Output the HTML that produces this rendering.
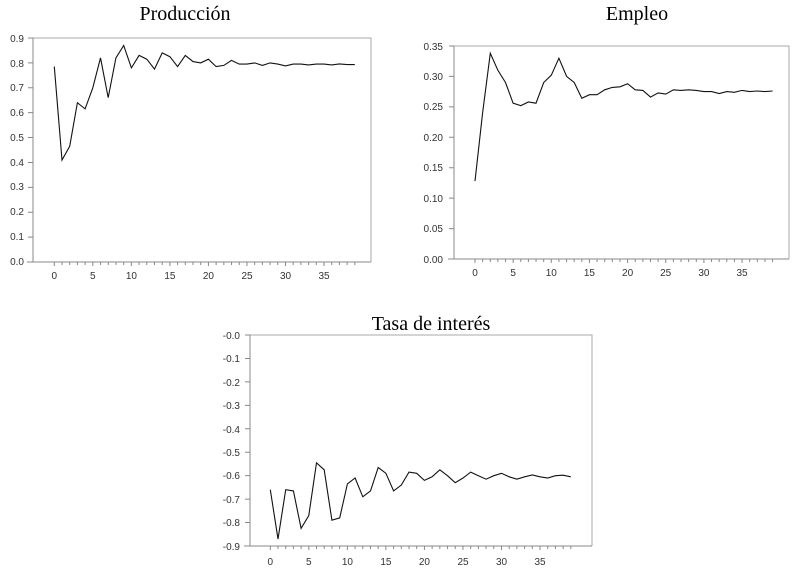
<!DOCTYPE html>
<html><head><meta charset="utf-8"><style>
body{margin:0;background:#fff;}
svg text{font-family:"Liberation Sans",sans-serif;font-size:10px;fill:#333;}
svg text.t{font-family:"Liberation Serif",serif;font-size:20px;fill:#000;}
</style></head><body>
<svg id="s" width="798" height="568" viewBox="0 0 798 568" xmlns="http://www.w3.org/2000/svg">
<text class="t" x="185" y="20" text-anchor="middle">Producción</text>
<text class="t" x="637" y="20" text-anchor="middle">Empleo</text>
<text class="t" x="431" y="330" text-anchor="middle">Tasa de interés</text>
<g text-anchor="end">
<text x="24" y="265">0.0</text><text x="24" y="240">0.1</text><text x="24" y="215">0.2</text><text x="24" y="190">0.3</text><text x="24" y="166">0.4</text><text x="24" y="141">0.5</text><text x="24" y="116">0.6</text><text x="24" y="91">0.7</text><text x="24" y="67">0.8</text><text x="24" y="42">0.9</text>
<text x="443" y="263">0.00</text><text x="443" y="232">0.05</text><text x="443" y="202">0.10</text><text x="443" y="171">0.15</text><text x="443" y="141">0.20</text><text x="443" y="110">0.25</text><text x="443" y="80">0.30</text><text x="443" y="50">0.35</text>
<text x="240" y="339">-0.0</text><text x="240" y="362">-0.1</text><text x="240" y="386">-0.2</text><text x="240" y="409">-0.3</text><text x="240" y="433">-0.4</text><text x="240" y="456">-0.5</text><text x="240" y="479">-0.6</text><text x="240" y="503">-0.7</text><text x="240" y="526">-0.8</text><text x="240" y="550">-0.9</text>
</g>
<g text-anchor="middle">
<text x="54.3" y="279">0</text><text x="92.8" y="279">5</text><text x="131.4" y="279">10</text><text x="169.9" y="279">15</text><text x="208.4" y="279">20</text><text x="247" y="279">25</text><text x="285.5" y="279">30</text><text x="324" y="279">35</text>
<text x="475" y="276">0</text><text x="513.1" y="276">5</text><text x="551.3" y="276">10</text><text x="589.4" y="276">15</text><text x="627.6" y="276">20</text><text x="665.7" y="276">25</text><text x="703.9" y="276">30</text><text x="742" y="276">35</text>
<text x="270.3" y="565">0</text><text x="308.8" y="565">5</text><text x="347.4" y="565">10</text><text x="385.9" y="565">15</text><text x="424.4" y="565">20</text><text x="463" y="565">25</text><text x="501.5" y="565">30</text><text x="540" y="565">35</text>
</g>
</svg>
<script>
var s=document.getElementById('s'),NS='http://www.w3.org/2000/svg';
function el(n,a){var e=document.createElementNS(NS,n);for(var k in a)e.setAttribute(k,a[k]);s.appendChild(e);}
function chart(L,T,R,B,x0,dx,v0,v1,nt,data){
 el('path',{d:'M'+L+' '+T+'H'+R+'V'+B,fill:'none',stroke:'#aaa','stroke-width':1});
 el('path',{d:'M'+L+' '+T+'V'+B+'M'+(L-6)+' '+B+'H'+R,fill:'none',stroke:'#888','stroke-width':1});
 var d='';for(var i=0;i<=nt;i++){var y=B-(B-T)*i/nt;d+='M'+(L-5)+' '+y+'H'+L;}
 for(var k=0;k<40;k++){var x=x0+k*dx;d+='M'+x+' '+B+'v'+(k%5==0?4:3);}
 el('path',{d:d,stroke:'#888','stroke-width':1,fill:'none'});
 var p=data.map(function(v,k){return (x0+k*dx).toFixed(1)+','+(B-(B-T)*(v-v0)/(v1-v0)).toFixed(1)}).join(' ');
 el('polyline',{points:p,fill:'none',stroke:'#111','stroke-width':1.1});
}
chart(33,38,371,262,54.3,7.706,0,0.9,9,[.785,.41,.465,.64,.615,.70,.82,.66,.82,.87,.78,.83,.815,.775,.84,.825,.785,.83,.805,.80,.815,.785,.79,.81,.795,.795,.80,.79,.80,.795,.788,.795,.795,.792,.795,.795,.792,.796,.793,.793]);
chart(454,46,789,259,475,7.63,0,0.35,7,[.128,.24,.338,.31,.29,.256,.252,.258,.256,.29,.302,.33,.30,.29,.264,.27,.27,.278,.282,.283,.288,.278,.277,.266,.273,.271,.278,.277,.278,.277,.275,.275,.272,.275,.274,.277,.275,.276,.275,.276]);
chart(250,335,592,546,270.3,7.706,-0.9,0,9,[-.66,-.87,-.66,-.665,-.825,-.77,-.545,-.575,-.79,-.78,-.635,-.61,-.69,-.665,-.565,-.59,-.665,-.64,-.585,-.59,-.62,-.605,-.575,-.60,-.63,-.61,-.585,-.60,-.615,-.60,-.59,-.605,-.615,-.605,-.597,-.605,-.61,-.60,-.598,-.605]);
</script>
</body></html>
